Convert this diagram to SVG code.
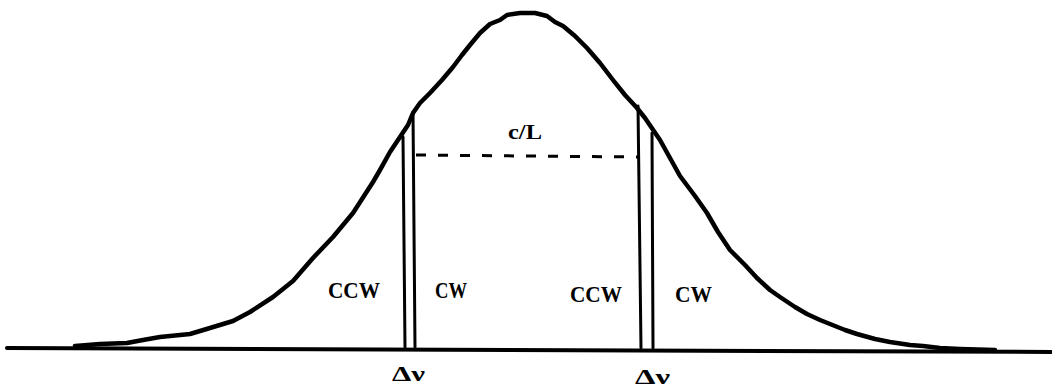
<svg xmlns="http://www.w3.org/2000/svg" width="1052" height="388" viewBox="0 0 1052 388">
<style>
.ln{fill:none;stroke:#000;stroke-linecap:round;stroke-linejoin:round}
.curve{stroke-width:4.5}
.base{stroke-width:4}
.bar{stroke-width:3}
.dash{stroke-width:3;stroke-dasharray:10 12;stroke-linecap:butt}
.t{font-family:"Liberation Serif","Times New Roman",serif;font-weight:bold;fill:#000}
</style>
<rect width="1052" height="388" fill="#fff"/>
<g id="baseline"><path class="ln base" d="M7,348 L1052,352"/></g>
<g id="curve"><path class="ln curve" d="M75,346 L100,344 L127,343 L143,340 L160,337 L190,334 L210,328 L233,321 L250,312 L273,297 L293,281 L313,258 L333,237 L353,213 L373,182 L380,170 L390,152 L400,137 L408,125 L413,113 L420,103 L430,93 L442,80 L453,67 L462,55 L470,45 L480,33 L490,24 L500,20 L507,15 L520,13 L535,13 L547,16 L555,22 L563,26 L575,36 L587,48 L600,63 L613,80 L625,95 L637,108 L645,118 L660,140 L680,176 L695,196 L707,213 L718,232 L730,250 L745,265 L757,278 L770,290 L780,297 L795,307 L807,314 L820,320 L830,324 L845,330 L857,334 L875,339 L890,342 L910,345 L923,346 L940,348 L960,349 L995,350"/></g>
<g id="connectors">
<path class="ln bar" d="M403,137 L405,347"/>
<path class="ln bar" d="M413,112 L415,347"/>
<path class="ln bar" d="M638,106 L641,348"/>
<path class="ln bar" d="M652,133 L653,348"/>
<path class="ln dash" d="M416,155 L638,157"/>
</g>
<g id="labels">
<text class="t" x="508" y="139" font-size="21" textLength="34" lengthAdjust="spacingAndGlyphs">c/L</text>
<text class="t" x="328" y="298" font-size="24" textLength="52" lengthAdjust="spacingAndGlyphs">CCW</text>
<text class="t" x="435" y="298" font-size="24" textLength="32" lengthAdjust="spacingAndGlyphs">CW</text>
<text class="t" x="570" y="302" font-size="24" textLength="52" lengthAdjust="spacingAndGlyphs">CCW</text>
<text class="t" x="675" y="302" font-size="24" textLength="37" lengthAdjust="spacingAndGlyphs">CW</text>
<text class="t" x="392" y="381" font-size="21" textLength="33" lengthAdjust="spacingAndGlyphs">Δν</text>
<text class="t" x="635" y="384" font-size="21" textLength="35" lengthAdjust="spacingAndGlyphs">Δν</text>
</g>
</svg>
